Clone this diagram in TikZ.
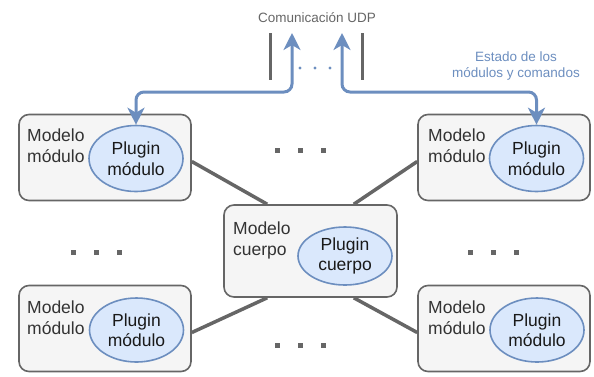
\documentclass[tikz,border=0pt]{standalone}
\usepackage{fontspec}
\setmainfont{Liberation Sans}
\usetikzlibrary{arrows.meta,shapes.geometric}
\definecolor{boxfill}{HTML}{F5F5F5}
\definecolor{boxline}{HTML}{666666}
\definecolor{ellfill}{HTML}{DAE8FC}
\definecolor{ellline}{HTML}{6C8EBF}
\definecolor{txt}{HTML}{333333}
\begin{document}
\begin{tikzpicture}[x=1pt,y=-1pt,
  modbox/.style={draw=boxline, fill=boxfill, line width=1.6pt, rounded corners=10pt,
    minimum width=172pt, minimum height=86pt, inner sep=0},
  plug/.style={ellipse, draw=ellline, fill=ellfill, line width=1.6pt, minimum width=94pt,
    minimum height=66pt, inner sep=0, align=center,
    font=\fontsize{17.5}{20.5}\selectfont, text=black!90},
  lbl/.style={anchor=north west, inner sep=0, align=left,
    font=\fontsize{17.5}{21}\selectfont, text=txt},
  link/.style={draw=boxline, line width=3.5pt},
  tipx/.tip={Stealth[length=17pt,width=17pt,inset=5pt]},
  comm/.style={draw=ellline, line width=3pt, rounded corners=8pt, tipx-tipx}
]
\useasboundingbox (0,0) rectangle (594,376);

% boxes
\node[modbox] (tl) at (105,157.5) {};
\node[modbox] (tr) at (504,157.5) {};
\node[modbox] (bl) at (105,328.5) {};
\node[modbox] (br) at (504,328.5) {};
\node[modbox, minimum width=173pt, minimum height=92pt] (c) at (310.5,251) {};

% links
\draw[link] ([yshift=-4pt]tl.east) -- ([xshift=44pt]c.north west);
\draw[link] ([yshift=-4pt]tr.west) -- ([xshift=-44pt]c.north east);
\draw[link] ([yshift=-4pt]bl.east) -- ([xshift=44pt]c.south west);
\draw[link] ([yshift=-4pt]br.west) -- ([xshift=-44pt]c.south east);

% labels
\node[lbl] (tlt) at (27,129) {Modelo\\módulo};
\node[lbl] (trt) at (428,129) {Modelo\\módulo};
\node[lbl] (blt) at (27,301) {Modelo\\módulo};
\node[lbl] (brt) at (428,301) {Modelo\\módulo};
\node[lbl] (ct) at (233,222) {Modelo\\cuerpo};

% plugins
\node[plug] (etl) at (136,158.5) {Plugin\\módulo};
\node[plug] (etr) at (536.5,158.5) {Plugin\\módulo};
\node[plug, minimum height=64pt] (ebl) at (136.5,330) {Plugin\\módulo};
\node[plug, minimum height=64pt] (ebr) at (537,330) {Plugin\\módulo};
\node[plug, minimum height=58pt] (ec) at (345,256) {Plugin\\cuerpo};

% ellipsis dots
\foreach \x/\y in {277/150,300/150,323/150, 73/252,96/252,119/252,
                   470/252,493/252,516/252, 277/345,300/345,323/345}
  \fill[boxline] (\x-2.5,\y-2.5) rectangle ++(5,5);

% UDP
\draw[link, line width=3pt] (270,33) -- (270,80);
\draw[link, line width=3pt] (362,33) -- (362,80);
\foreach \x in {300,315,330} \fill[ellline] (\x,68) circle (1.6);
\coordinate (udpL) at (292,33);
\coordinate (udpR) at (342,33);
\draw[comm] (udpL) -- (udpL |- 0,92) -- (etl.north |- 0,92) -- (etl.north);
\draw[comm] (udpR) -- (udpR |- 0,92) -- (etr.north |- 0,92) -- (etr.north);

\node[font=\fontsize{13.5}{16}\selectfont, text=boxline] (udp) at (317,18) {Comunicación UDP};
\node[font=\fontsize{13.5}{16}\selectfont, text=ellline, align=center] (est) at (516,66)
  {Estado de los\\módulos y comandos};
\end{tikzpicture}
\end{document}
